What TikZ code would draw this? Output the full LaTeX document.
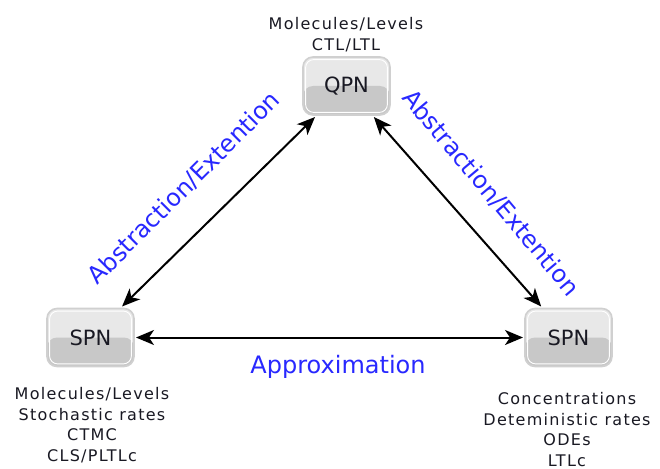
\documentclass[tikz,border=0pt]{standalone}
\usepackage{fontspec}
\setmainfont{DejaVu Sans}
\newfontfamily\spacedfont[LetterSpace=8]{DejaVu Sans}
\usetikzlibrary{arrows.meta}
\definecolor{boxtop}{RGB}{232,232,232}
\definecolor{boxbot}{RGB}{200,200,200}
\definecolor{boxrim}{RGB}{208,208,208}
\definecolor{lblblue}{RGB}{40,40,255}
\definecolor{txt}{RGB}{25,25,35}
\begin{document}
\begin{tikzpicture}[x=1pt,y=-1pt,
  netbox/.style={rectangle, rounded corners=10pt, minimum width=87pt, minimum height=58pt,
    fill=boxtop, draw=boxrim, line width=1.6pt, text=txt,
    font=\fontsize{21}{24}\selectfont, inner sep=0pt, outer sep=2pt,
    path picture={
      \fill[boxbot] (path picture bounding box.west) rectangle (path picture bounding box.south east);
      \draw[white, line width=0.9pt, rounded corners=8pt]
        ([shift={(2.6pt,-2.6pt)}]path picture bounding box.north west) rectangle
        ([shift={(-2.6pt,2.6pt)}]path picture bounding box.south east);}},
  info/.style={font=\spacedfont\fontsize{16}{20.5}\selectfont, align=center, text=txt, inner sep=0pt, anchor=north},
  lbl/.style={font=\fontsize{24}{28}\selectfont, text=lblblue, inner sep=0pt},
  conn/.style={{Stealth[length=18pt,width=15pt,inset=5pt]}-{Stealth[length=18pt,width=15pt,inset=5pt]}, line width=2pt, black}
]
\fill[white] (0,0) rectangle (660,468);
\useasboundingbox (0,0) rectangle (660,468);

\node[netbox] (qpn) at (346.5,86) {QPN};
\node[netbox] (spnL) at (90.5,337.5) {SPN};
\node[netbox] (spnR) at (568.5,337.5) {SPN};

\node[info] (qinfo) at (346,17.5) {Molecules/Levels\\CTL/LTL};
\node[info] (linfo) at (92,387.5) {Molecules/Levels\\Stochastic rates\\CTMC\\CLS/PLTLc};
\node[info] (rinfo) at (567,392.5) {Concentrations\\Deteministic rates\\ODEs\\LTLc};

\draw[conn] (spnL) -- (qpn);
\draw[conn] (qpn) -- (spnR);
\draw[conn] (spnL) -- (spnR);

\node[lbl, rotate=45] (absL) at (184,188) {Abstraction/Extention};
\node[lbl, rotate=-50] (absR) at (491,193) {Abstraction/Extention};
\node[lbl, anchor=base] (approx) at (338,373) {Approximation};
\end{tikzpicture}
\end{document}
